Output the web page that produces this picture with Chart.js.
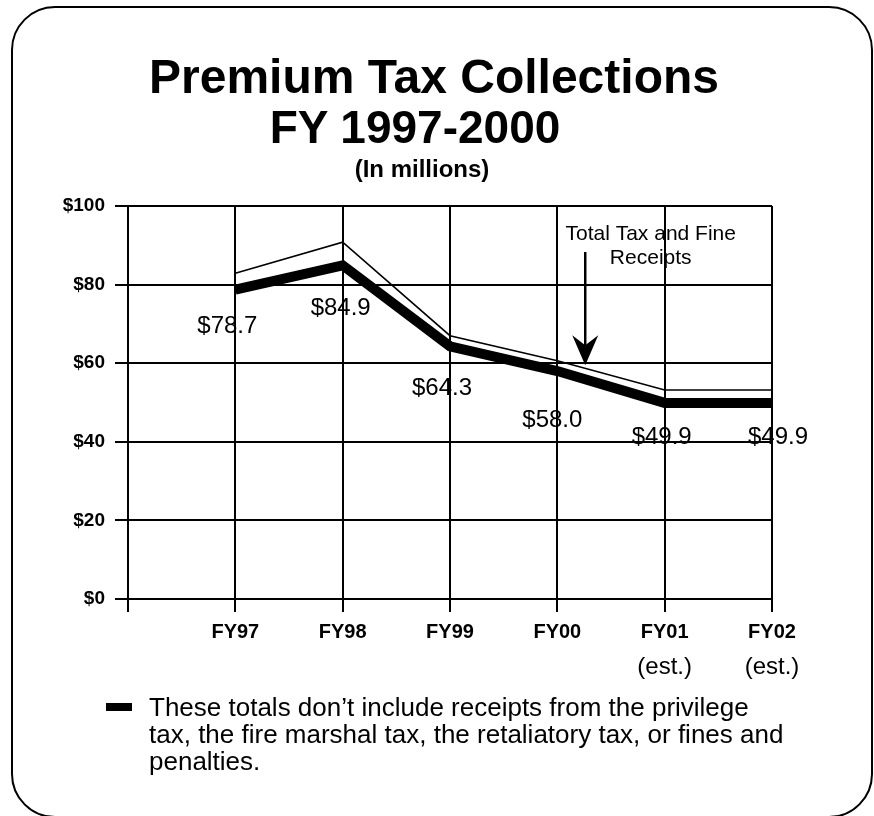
<!DOCTYPE html>
<html>
<head>
<meta charset="utf-8">
<script src="https://cdn.jsdelivr.net/npm/chart.js@4.4.1/dist/chart.umd.min.js"></script>
<style>
  html, body { margin: 0; padding: 0; background: #fff; }
  #wrap { position: relative; width: 874px; height: 816px; overflow: hidden; background: #fff;
          font-family: "Liberation Sans", Arial, Helvetica, sans-serif; color: #000; }
  #frame { position: absolute; left: 11px; top: 6px; width: 862px; height: 812px; box-sizing: border-box;
           border: 2px solid #000; border-radius: 44px; }
  canvas { position: absolute; left: 0; top: 0; }
  .t { position: absolute; white-space: nowrap; text-align: center; line-height: 1; }
  #t1 { left: 134px; width: 600px; top: 53px; font-size: 48px; font-weight: bold; }
  #t2 { left: 115px; width: 600px; top: 104px; font-size: 46px; font-weight: bold; }
  #t3 { left: 272px; width: 300px; top: 157px; font-size: 24px; font-weight: 600; }
  #swatch { position: absolute; left: 106px; top: 703px; width: 26px; height: 8px; background: #000; }
  #note { position: absolute; left: 149px; top: 694px; font-size: 26px; line-height: 27px; white-space: nowrap; }
</style>
</head>
<body>
<div id="wrap">
  <div id="frame"></div>
  <canvas id="c" width="874" height="816"></canvas>
  <div class="t" id="t1">Premium Tax Collections</div>
  <div class="t" id="t2">FY 1997-2000</div>
  <div class="t" id="t3">(In millions)</div>
  <div id="swatch"></div>
  <div id="note">These totals don’t include receipts from the privilege<br>tax, the fire marshal tax, the retaliatory tax, or fines and<br>penalties.</div>
</div>
<script>
// ---- data ----
const categories = ["", "FY97", "FY98", "FY99", "FY00", "FY01", "FY02"];
const estNotes = ["", "", "", "", "", "(est.)", "(est.)"];
const premiumTax = [null, 78.7, 84.9, 64.3, 58.0, 49.9, 49.9];
const totalTaxAndFine = [null, 82.9, 90.8, 67.0, 60.6, 53.2, 53.2];
const yTickValues = [0, 20, 40, 60, 80, 100];
const annotationLines = ["Total Tax and Fine", "Receipts"];

const FONT = '"Liberation Sans", Arial, Helvetica, sans-serif';

const overlay = {
  id: 'overlay',
  afterDatasetsDraw(chart, args, opts) {
    const ctx = chart.ctx;
    const xs = chart.scales.x, ys = chart.scales.y;
    ctx.save();
    ctx.fillStyle = '#000';
    ctx.strokeStyle = '#000';
    // value labels for the premium tax series
    ctx.font = '24px ' + FONT;
    ctx.textAlign = 'center';
    ctx.textBaseline = 'middle';
    premiumTax.forEach((v, i) => {
      if (v == null) return;
      const o = opts.labelOffsets[i];
      ctx.fillText('$' + v.toFixed(1), xs.getPixelForValue(i) + o[0], ys.getPixelForValue(v) + o[1]);
    });
    // "(est.)" second line under tick labels
    ctx.font = '24px ' + FONT;
    estNotes.forEach((t, i) => {
      if (!t) return;
      ctx.fillText(t, xs.getPixelForValue(i), chart.chartArea.bottom + opts.estOffset);
    });
    // annotation text
    ctx.font = '21px ' + FONT;
    ctx.textBaseline = 'alphabetic';
    const a = opts.annotation;
    annotationLines.forEach((t, k) => {
      ctx.fillText(t, xs.getPixelForValue(a.textX), ys.getPixelForValue(a.textY[k]));
    });
    // arrow
    const ax = xs.getPixelForValue(a.arrowX);
    const yTop = ys.getPixelForValue(a.arrowTop);
    const yTip = ys.getPixelForValue(a.arrowTip);
    ctx.lineWidth = 2.5;
    ctx.beginPath();
    ctx.moveTo(ax, yTop);
    ctx.lineTo(ax, yTip - 20);
    ctx.stroke();
    ctx.beginPath();
    ctx.moveTo(ax, yTip);
    ctx.lineTo(ax - 13, yTip - 30);
    ctx.lineTo(ax, yTip - 20);
    ctx.lineTo(ax + 13, yTip - 30);
    ctx.closePath();
    ctx.fill();
    ctx.restore();
  }
};

new Chart(document.getElementById('c'), {
  type: 'line',
  data: {
    labels: categories,
    datasets: [
      {
        label: 'Premium Tax',
        data: premiumTax,
        borderColor: '#000',
        borderWidth: 10,
        borderJoinStyle: 'miter',
        borderCapStyle: 'butt',
        pointRadius: 0,
        tension: 0,
        fill: false
      },
      {
        label: 'Total Tax and Fine Receipts',
        data: totalTaxAndFine,
        borderColor: '#000',
        borderWidth: 1.5,
        borderJoinStyle: 'miter',
        pointRadius: 0,
        tension: 0,
        fill: false
      }
    ]
  },
  options: {
    responsive: false,
    animation: false,
    layout: { padding: { left: 20, right: 102, top: 206, bottom: 150 } },
    plugins: {
      legend: { display: false },
      tooltip: { enabled: false },
      title: { display: false },
      overlay: {
        labelOffsets: [[0, 0], [-8, 37], [-2, 43], [-8, 42], [-5, 49], [-3, 34], [6, 34]],
        estOffset: 68,
        annotation: { textX: 4.87, textY: [91.3, 85.2], arrowX: 4.26, arrowTop: 88.3, arrowTip: 59.5 }
      }
    },
    scales: {
      x: {
        type: 'category',
        offset: false,
        grid: { color: '#000', lineWidth: 2, tickLength: 13, drawTicks: true },
        border: { color: '#000', width: 2 },
        ticks: { color: '#000', font: { family: FONT, size: 20, weight: 'bold' }, padding: 8,
                 maxRotation: 0, autoSkip: false },
        afterFit(s) { s.height = 67; }
      },
      y: {
        min: 0, max: 100,
        afterBuildTicks(s) { s.ticks = yTickValues.map(v => ({ value: v })); },
        grid: { color: '#000', lineWidth: 2, tickLength: 13 },
        border: { color: '#000', width: 2 },
        ticks: { color: '#000', font: { family: FONT, size: 19, weight: 'bold' }, padding: 10,
                 callback: v => '$' + v },
        afterFit(s) { s.width = 108; }
      }
    }
  },
  plugins: [overlay]
});
</script>
</body>
</html>
